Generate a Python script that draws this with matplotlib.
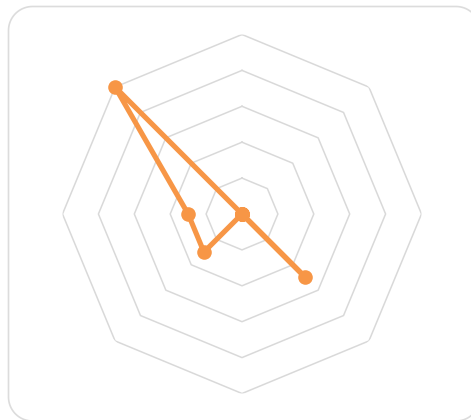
import numpy as np
import matplotlib
matplotlib.use('Agg')
import matplotlib.pyplot as plt
from matplotlib.lines import Line2D
from matplotlib.transforms import IdentityTransform

# radar data: 8 spokes, clockwise from top
categories = ['A', 'B', 'C', 'D', 'E', 'F', 'G', 'H']
values = [0, 0, 0, 2.5, 0, 1.5, 1.5, 5]
ring_levels = [1, 2, 3, 4, 5]

ORANGE = '#f79646'
GRID = '#d9d9d9'

W, H = 471, 420
fig = plt.figure(figsize=(W / 100, H / 100), dpi=100)


def rounded_rect(x0, y0, x1, y1, r, steps=20):
    """rounded rectangle outline as a polyline (pixel coords, y up)"""
    xs, ys = [], []
    corners = [(x1 - r, y1 - r, 0), (x0 + r, y1 - r, 90),
               (x0 + r, y0 + r, 180), (x1 - r, y0 + r, 270)]
    for cxr, cyr, start in corners:
        t = np.radians(np.linspace(start, start + 90, steps))
        xs.extend(cxr + r * np.cos(t))
        ys.extend(cyr + r * np.sin(t))
    xs.append(xs[0])
    ys.append(ys[0])
    return xs, ys


# frame around the chart, runs off the right / bottom edge
fx, fy = rounded_rect(8.5, -1, 480, 413.5, 24)
fig.add_artist(Line2D(fx, fy, transform=IdentityTransform(), color='#dcdcdc',
                      linewidth=1.2, zorder=-1))

cx, cy, R = 242, 420 - 214, 179.5
ax = fig.add_axes([(cx - R) / W, (cy - R) / H, 2 * R / W, 2 * R / H], projection='polar')
ax.set_theta_offset(np.pi / 2)
ax.set_theta_direction(-1)
ax.set_ylim(0, 5)
ax.grid(False)
ax.spines['polar'].set_visible(False)
ax.set_xticks([])
ax.set_yticks([])
ax.patch.set_alpha(0)

n = len(categories)
angles = np.linspace(0, 2 * np.pi, n, endpoint=False)
closed_angles = np.append(angles, angles[0])

for lv in ring_levels:
    ax.plot(closed_angles, [lv] * (n + 1), color=GRID, linewidth=1.1, zorder=1)

vals = np.append(values, values[0])
ax.plot(closed_angles, vals, color=ORANGE, linewidth=3.7, marker='o',
        markersize=10.5, markeredgewidth=0, solid_joinstyle='round',
        solid_capstyle='round', zorder=3, clip_on=False)

plt.savefig('out.png', dpi=100)
plt.close()
